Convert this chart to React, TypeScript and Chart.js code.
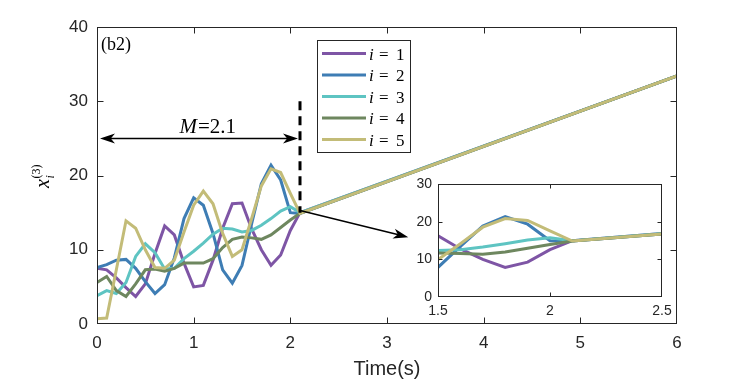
import React, { useEffect, useRef } from "react";
import { Chart, registerables } from "chart.js";

Chart.register(...registerables);

// ---------------- data ----------------
const TIME = [0, 0.1, 0.2, 0.3, 0.4, 0.5, 0.6, 0.7, 0.8, 0.9, 1.0, 1.1, 1.2, 1.3, 1.4, 1.5, 1.6, 1.7, 1.8, 1.9, 2.0, 2.1, 6];
const X1 = [7.5, 7.3, 6.2, 4.9, 3.7, 5.4, 9.5, 13.2, 12.0, 8.2, 5.0, 5.2, 8.6, 12.9, 16.2, 16.3, 12.8, 10.0, 7.9, 9.3, 12.6, 15.0, 33.4];
const X2 = [7.6, 8.0, 8.6, 8.7, 7.5, 5.7, 4.1, 5.3, 8.9, 14.2, 17.0, 16.0, 12.2, 7.3, 5.5, 7.9, 13.5, 18.9, 21.4, 19.4, 15.0, 14.9, 33.4];
const X3 = [3.8, 4.5, 4.1, 5.6, 9.1, 10.8, 9.6, 7.4, 7.5, 8.8, 9.8, 10.9, 12.1, 12.9, 12.8, 12.4, 12.6, 13.3, 14.2, 15.2, 15.8, 15.0, 33.4];
const X4 = [5.6, 6.4, 4.5, 3.7, 5.4, 7.3, 7.4, 7.1, 7.5, 8.2, 8.2, 8.2, 8.8, 10.3, 11.4, 11.7, 11.6, 11.4, 12.0, 13.0, 14.0, 14.9, 33.4];
const X5 = [0.7, 0.8, 7.3, 13.9, 12.9, 10.0, 7.6, 7.5, 8.6, 12.4, 16.0, 17.9, 16.2, 12.2, 9.1, 10.0, 14.2, 18.6, 20.9, 20.4, 17.6, 14.9, 33.4];

const SERIES = [X1, X2, X3, X4, X5];
const SERIES_INDEX = ["1", "2", "3", "4", "5"];
const COLORS = ["#7E55A5", "#3E7DB4", "#5EC4C2", "#6E875F", "#C3BC78"];

const MAIN_X_TICKS = [0, 1, 2, 3, 4, 5, 6];
const MAIN_Y_TICKS = [0, 10, 20, 30, 40];
const INSET_X_TICKS = [1.5, 2, 2.5];
const INSET_Y_TICKS = [0, 10, 20, 30];

const M_VALUE = 2.1; // switching time
const M_ARROW_Y = 25;
const DASH_TOP = 30;
const DASH_BOTTOM = 15;
const POINTER_START = [2.1, 15.3];
const POINTER_END = [3.22, 11.7];

const PANEL_LABEL = "(b2)";
const X_TITLE = "Time(s)";

// ---------------- styles ----------------
const AXIS_COLOR = "#262626";
const SANS = "'Liberation Sans', Arial, Helvetica, sans-serif";
const SERIF = "'Liberation Serif', 'Times New Roman', serif";

function makeDatasets() {
  return SERIES.map((ys, k) => ({
    label: "i = " + SERIES_INDEX[k],
    data: TIME.map((t, j) => ({ x: t, y: ys[j] })),
    borderColor: COLORS[k],
    backgroundColor: COLORS[k],
    borderWidth: 3,
    pointRadius: 0,
    tension: 0,
    fill: false,
    order: SERIES.length - 1 - k, // later series drawn on top
  }));
}

function axis(min: number, max: number, ticks: number[], size: number, pad: number, fitKey: string, fitVal: number) {
  return {
    type: "linear",
    min,
    max,
    grid: { display: false, drawTicks: false },
    border: { display: false },
    ticks: {
      font: { family: SANS, size },
      color: AXIS_COLOR,
      padding: pad,
      maxRotation: 0,
      autoSkip: false,
      callback: (v: any) => String(v),
    },
    afterBuildTicks: (s: any) => {
      s.ticks = ticks.map((v) => ({ value: v }));
    },
    afterFit: (s: any) => {
      s[fitKey] = fitVal;
    },
  };
}

function framePlugin(tickLen: number, fillWhite: boolean) {
  return {
    id: "frame",
    beforeDatasetsDraw(chart: any) {
      if (!fillWhite) return;
      const { ctx, chartArea: a } = chart;
      ctx.save();
      ctx.fillStyle = "#ffffff";
      ctx.fillRect(a.left, a.top, a.right - a.left, a.bottom - a.top);
      ctx.restore();
    },
    afterDraw(chart: any) {
      const { ctx, chartArea: a, scales } = chart;
      ctx.save();
      ctx.strokeStyle = AXIS_COLOR;
      ctx.lineWidth = 1;
      const L = Math.round(a.left) + 0.5;
      const R = Math.round(a.right) - 0.5;
      const T = Math.round(a.top) + 0.5;
      const B = Math.round(a.bottom) - 0.5;
      ctx.strokeRect(L, T, R - L, B - T);
      ctx.beginPath();
      scales.x.ticks.forEach((tk: any) => {
        const x = Math.round(scales.x.getPixelForValue(tk.value)) + 0.5;
        if (x <= L + 1 || x >= R - 1) return;
        ctx.moveTo(x, B);
        ctx.lineTo(x, B - tickLen);
        ctx.moveTo(x, T);
        ctx.lineTo(x, T + tickLen);
      });
      scales.y.ticks.forEach((tk: any) => {
        const y = Math.round(scales.y.getPixelForValue(tk.value)) + 0.5;
        if (y <= T + 1 || y >= B - 1) return;
        ctx.moveTo(L, y);
        ctx.lineTo(L + tickLen, y);
        ctx.moveTo(R, y);
        ctx.lineTo(R - tickLen, y);
      });
      ctx.stroke();
      ctx.restore();
    },
  };
}

function arrowHead(ctx: CanvasRenderingContext2D, tx: number, ty: number, ang: number, len: number, half: number) {
  const c = Math.cos(ang);
  const s = Math.sin(ang);
  const bx = tx - c * len;
  const by = ty - s * len;
  const nx = tx - c * len * 0.72;
  const ny = ty - s * len * 0.72;
  ctx.beginPath();
  ctx.moveTo(tx, ty);
  ctx.lineTo(bx - s * half, by + c * half);
  ctx.lineTo(nx, ny);
  ctx.lineTo(bx + s * half, by - c * half);
  ctx.closePath();
  ctx.fill();
}

const overlayPlugin = {
  id: "overlay",
  afterDraw(chart: any) {
    const { ctx, chartArea: a, scales } = chart;
    const xs = scales.x;
    const ys = scales.y;
    ctx.save();

    // panel label
    ctx.fillStyle = "#000";
    ctx.font = "18px " + SERIF;
    ctx.textAlign = "left";
    ctx.textBaseline = "alphabetic";
    ctx.fillText(PANEL_LABEL, a.left + 4, a.top + 23);

    // double arrow for M
    const ay = ys.getPixelForValue(M_ARROW_Y);
    const ax0 = xs.getPixelForValue(0) + 3;
    const ax1 = xs.getPixelForValue(M_VALUE) - 2;
    ctx.strokeStyle = "#000";
    ctx.lineWidth = 1.5;
    ctx.beginPath();
    ctx.moveTo(ax0 + 8, ay);
    ctx.lineTo(ax1 - 8, ay);
    ctx.stroke();
    arrowHead(ctx, ax0, ay, Math.PI, 15, 5);
    arrowHead(ctx, ax1, ay, 0, 15, 5);

    // M = 2.1 text
    const mx = xs.getPixelForValue(1.14);
    const my = ay - 5;
    ctx.font = "italic 21px " + SERIF;
    const wM = ctx.measureText("M").width;
    ctx.font = "21px " + SERIF;
    const rest = "=" + String(M_VALUE);
    const wR = ctx.measureText(rest).width;
    const sx = mx - (wM + wR) / 2;
    ctx.font = "italic 21px " + SERIF;
    ctx.fillText("M", sx, my);
    ctx.font = "21px " + SERIF;
    ctx.fillText(rest, sx + wM + 1, my);

    // dashed vertical at switching time
    const dx = xs.getPixelForValue(M_VALUE);
    ctx.lineWidth = 3;
    ctx.setLineDash([9, 6]);
    ctx.beginPath();
    ctx.moveTo(dx, ys.getPixelForValue(DASH_TOP));
    ctx.lineTo(dx, ys.getPixelForValue(DASH_BOTTOM));
    ctx.stroke();
    ctx.setLineDash([]);

    // pointer arrow to inset
    const px0 = xs.getPixelForValue(POINTER_START[0]);
    const py0 = ys.getPixelForValue(POINTER_START[1]);
    const px1 = xs.getPixelForValue(POINTER_END[0]);
    const py1 = ys.getPixelForValue(POINTER_END[1]);
    const ang = Math.atan2(py1 - py0, px1 - px0);
    ctx.lineWidth = 1.5;
    ctx.beginPath();
    ctx.moveTo(px0, py0);
    ctx.lineTo(px1 - Math.cos(ang) * 10, py1 - Math.sin(ang) * 10);
    ctx.stroke();
    arrowHead(ctx, px1, py1, ang, 15, 5);

    // legend
    const lgL = 317.5, lgT = 40.5, lgR = 410.5, lgB = 152.5;
    ctx.fillStyle = "#fff";
    ctx.fillRect(lgL, lgT, lgR - lgL, lgB - lgT);
    ctx.strokeStyle = AXIS_COLOR;
    ctx.lineWidth = 1;
    ctx.strokeRect(lgL, lgT, lgR - lgL, lgB - lgT);
    SERIES_INDEX.forEach((idx, k) => {
      const ry = 53.5 + k * 21.5;
      ctx.strokeStyle = COLORS[k];
      ctx.lineWidth = 3;
      ctx.beginPath();
      ctx.moveTo(322, ry);
      ctx.lineTo(366, ry);
      ctx.stroke();
      ctx.fillStyle = "#000";
      ctx.textBaseline = "alphabetic";
      ctx.textAlign = "left";
      ctx.font = "italic 17px " + SERIF;
      ctx.fillText("i", 369, ry + 6);
      ctx.font = "17px " + SERIF;
      ctx.fillText("=", 379, ry + 6);
      ctx.fillText(idx, 396, ry + 6);
    });

    // y-axis title x_i^(3)
    ctx.save();
    ctx.translate(44, (a.top + a.bottom) / 2 + 1);
    ctx.rotate(-Math.PI / 2);
    ctx.fillStyle = "#000";
    ctx.textAlign = "left";
    ctx.textBaseline = "alphabetic";
    ctx.font = "italic 20px " + SERIF;
    const wx = ctx.measureText("x").width;
    ctx.font = "12px " + SERIF;
    const w3 = ctx.measureText("(3)").width;
    const tot = wx + w3;
    const x0 = -tot / 2;
    ctx.font = "italic 20px " + SERIF;
    ctx.fillText("x", x0, 5);
    ctx.font = "12px " + SERIF;
    ctx.fillText("(3)", x0 + wx + 0.5, -4);
    ctx.font = "italic 12px " + SERIF;
    ctx.fillText("i", x0 + wx + 0.5, 10);
    ctx.restore();

    // x-axis title
    ctx.fillStyle = AXIS_COLOR;
    ctx.font = "20px " + SANS;
    ctx.textAlign = "center";
    ctx.textBaseline = "alphabetic";
    ctx.fillText(X_TITLE, (a.left + a.right) / 2, 375);

    ctx.restore();
  },
};

export default function App() {
  const mainRef = useRef<HTMLCanvasElement | null>(null);
  const insetRef = useRef<HTMLCanvasElement | null>(null);

  useEffect(() => {
    const main = new Chart(mainRef.current as HTMLCanvasElement, {
      type: "line",
      data: { datasets: makeDatasets() as any },
      options: {
        animation: false,
        responsive: false,
        maintainAspectRatio: false,
        layout: { padding: { left: 0, right: 70, top: 27, bottom: 0 } },
        plugins: { legend: { display: false }, tooltip: { enabled: false } },
        scales: {
          x: axis(0, 6, MAIN_X_TICKS, 17, 9, "height", 56) as any,
          y: axis(0, 40, MAIN_Y_TICKS, 17, 9, "width", 97) as any,
        },
      },
      plugins: [framePlugin(6, false), overlayPlugin],
    });

    const inset = new Chart(insetRef.current as HTMLCanvasElement, {
      type: "line",
      data: { datasets: makeDatasets() as any },
      options: {
        animation: false,
        responsive: false,
        maintainAspectRatio: false,
        layout: { padding: { left: 0, right: 28, top: 14, bottom: 0 } },
        plugins: { legend: { display: false }, tooltip: { enabled: false } },
        scales: {
          x: axis(1.5, 2.5, INSET_X_TICKS, 14, 6, "height", 23) as any,
          y: axis(0, 30, INSET_Y_TICKS, 14, 6, "width", 38) as any,
        },
      },
      plugins: [framePlugin(4, true)],
    });

    return () => {
      main.destroy();
      inset.destroy();
    };
  }, []);

  return (
    <div style={{ position: "absolute", left: 0, top: 0, width: 747, height: 380, background: "#fff" }}>
      <canvas ref={mainRef} width={747} height={380} style={{ position: "absolute", left: 0, top: 0 }} />
      <canvas ref={insetRef} width={290} height={150} style={{ position: "absolute", left: 400, top: 170 }} />
    </div>
  );
}
